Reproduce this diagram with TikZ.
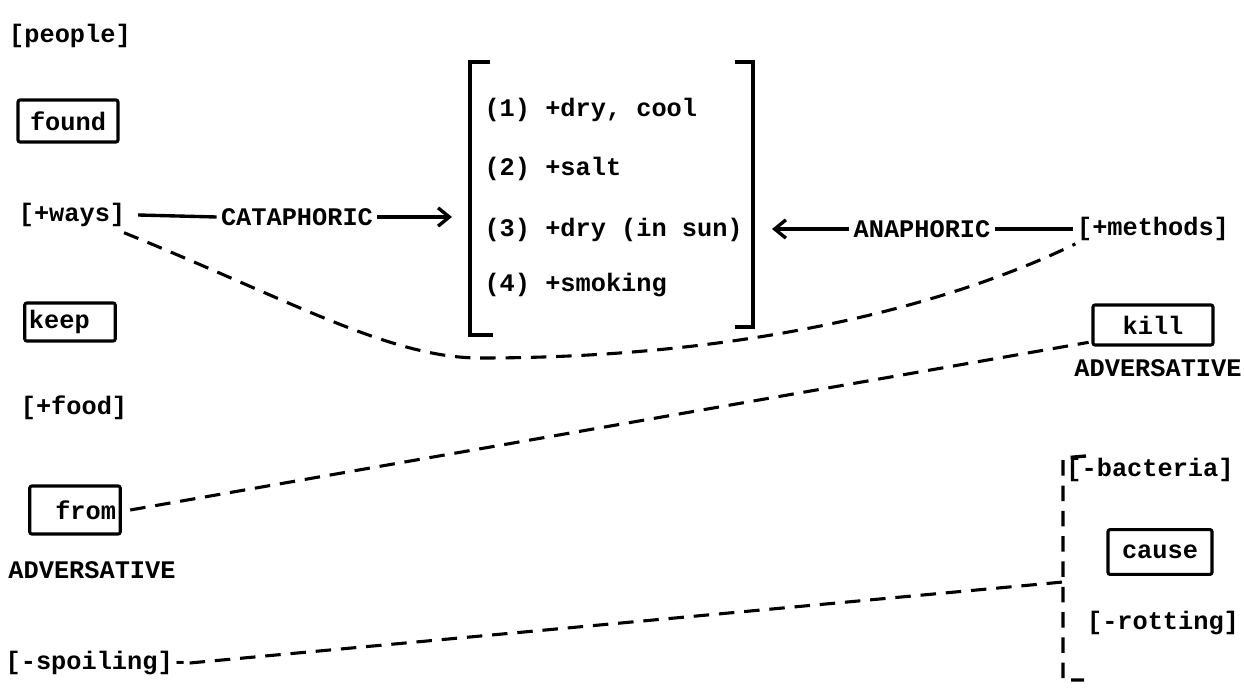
\documentclass[tikz,border=0pt]{standalone}
\usepackage{fontspec}
\setmonofont{Liberation Mono}
\usetikzlibrary{arrows.meta,positioning}
\tikzset{
  word/.style={font=\ttfamily\bfseries\fontsize{18}{20}\selectfont, inner sep=3pt},
  wordbox/.style={word, draw, line width=2.2pt, rounded corners=1.5pt},
  link/.style={line width=2.4pt},
  reflink/.style={link, -{Straight Barb[length=8pt,width=13pt,line width=2.4pt]}},
  dashlink/.style={line width=2.2pt, dash pattern=on 11pt off 7pt},
  bracketline/.style={line width=2.6pt},
}
\begin{document}
\begin{tikzpicture}[x=0.025cm,y=-0.025cm]
  \useasboundingbox (0,0) rectangle (1244,689);
  % Left column
  \node[word] (people) at (70,36) {[people]};
  \node[wordbox, minimum width=2.5cm, minimum height=1.05cm] (found) at (68,121) {found};
  \node[word] (ways) at (72,215) {[+ways]};
  \node[wordbox, text width=2.05cm, align=left, minimum height=0.95cm] (keep) at (70,322) {keep};
  \node[word] (food) at (74,408) {[+food]};
  \node[wordbox, text width=2.05cm, align=right, minimum height=1.2cm] (from) at (75,510) {from};
  \node[word] (advleft) at (92,570) {ADVERSATIVE};
  \node[word, anchor=west, inner sep=1pt] (spoiling) at (4,663) {[-spoiling]-};
  % Bracketed list
  \draw[bracketline] (490,62) -- (470,62) -- (470,335) -- (493,335);
  \draw[bracketline] (735,62) -- (753,62) -- (753,327) -- (735,327);
  \node[word, anchor=west] (item1) at (480,110) {(1) +dry, cool};
  \node[word, anchor=west] (item2) at (480,169) {(2) +salt};
  \node[word, anchor=west] (item3) at (480,230) {(3) +dry (in sun)};
  \node[word, anchor=west] (item4) at (480,285) {(4) +smoking};
  \coordinate (catend) at (452,217);
  \coordinate (anaend) at (772,229);
  % Reference links
  \node[word] (cataphoric) at (297,217) {CATAPHORIC};
  \draw[link] ([xshift=6pt]ways.east) -- (cataphoric.west);
  \draw[reflink] (cataphoric.east) -- (catend);
  \node[word] (methods) at (1153,229) {[+methods]};
  \node[word] (anaphoric) at (922,229) {ANAPHORIC};
  \draw[reflink] (anaphoric.west) -- (anaend);
  \draw[link] (methods.west) -- (anaphoric.east);
  % Right column
  \node[wordbox, minimum width=3cm, minimum height=1.0cm] (kill) at (1153,325) {kill};
  \node[word] (advright) at (1158,368) {ADVERSATIVE};
  \node[word] (bacteria) at (1150,470) {[-bacteria]};
  \node[wordbox, minimum width=2.6cm, minimum height=1.12cm] (cause) at (1160,552) {cause};
  \node[word] (rotting) at (1163,623) {[-rotting]};
  \draw[dashlink, line width=2.4pt] (1086,456) -- (1063,458) -- (1063,680) -- (1084,680);
  \coordinate (brk) at (1063,582);
  % Cohesive ties
  \draw[dashlink] ([shift={(-4pt,-1pt)}]ways.south east) .. controls (290,300) and (390,358) .. (480,358)
    .. controls (760,358) and (960,300) .. ([shift={(2pt,1pt)}]methods.south west);
  \draw[dashlink] ([xshift=6pt]from.east) -- ([shift={(-2pt,3pt)}]kill.south west);
  \draw[dashlink] (spoiling.east) -- (brk);
\end{tikzpicture}
\end{document}
